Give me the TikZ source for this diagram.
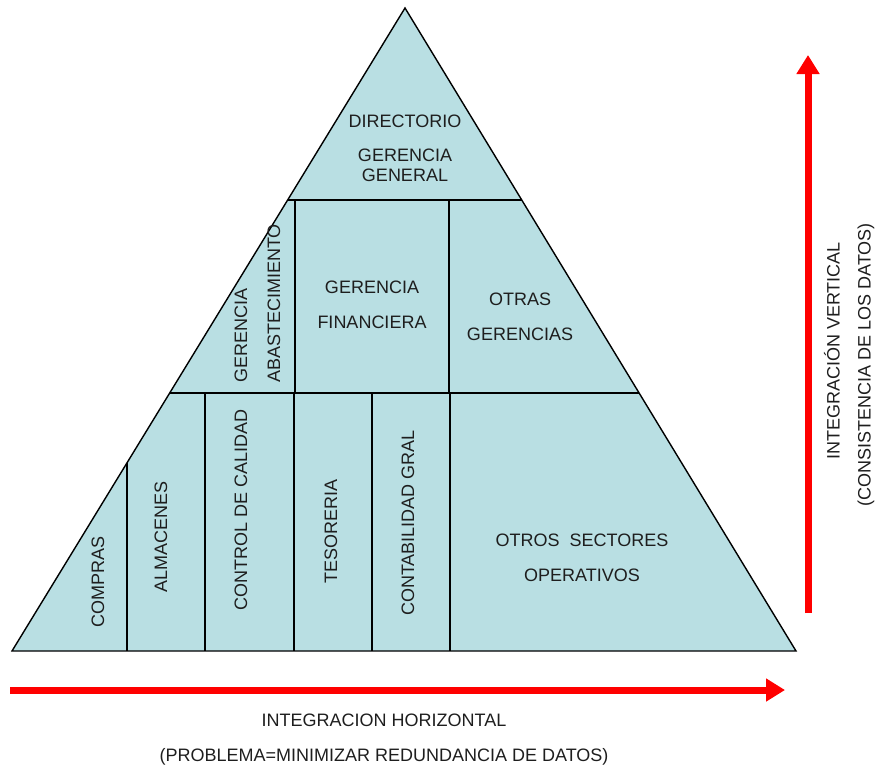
\documentclass[tikz,border=0pt]{standalone}
\usepackage{fontspec}
\setmainfont{Liberation Sans}
\usetikzlibrary{arrows.meta, positioning, calc}
\definecolor{pyrfill}{RGB}{185, 223, 227}
\definecolor{pyrtext}{RGB}{30, 30, 30}
\definecolor{axisred}{RGB}{255, 0, 0}

\begin{document}
\begin{tikzpicture}[x=1pt, y=-1pt,
    cell/.style={draw=black, line width=1.4pt},
    txt/.style={inner sep=0pt, align=center, text=pyrtext,
                font=\fontsize{18}{35}\selectfont},
    vtxt/.style={txt, rotate=90},
    axis/.style={draw=axisred, line width=7pt,
                 -{Triangle[length=19pt, width=22pt]}},
]
\useasboundingbox (0,0) rectangle (877,766);

% Pyramid outline
\coordinate (apex) at (405,8);
\coordinate (bl) at (12,651);
\coordinate (br) at (796,651);
\filldraw[cell, fill=pyrfill, line join=miter] (apex) -- (br) -- (bl) -- cycle;

% Level borders
\coordinate (l1) at ($(apex)!0.2986!(bl)$);
\coordinate (r1) at ($(apex)!0.2986!(br)$);
\coordinate (l2) at ($(apex)!0.5988!(bl)$);
\coordinate (r2) at ($(apex)!0.5988!(br)$);
\coordinate (c1) at ($(apex)!0.7074!(bl)$);
\draw[cell] (l1) -- (r1);
\draw[cell] (l2) -- (r2);

% Middle level columns
\draw[cell] (295,200) -- (295,393);
\draw[cell] (449,200) -- (449,393);

% Bottom level columns
\draw[cell] (c1) -- (c1 |- bl);
\foreach \x in {205,294,372,450}
    \draw[cell] (\x,393) -- (\x,651);

% Top level
\node[txt] (dir) at (405,121) {DIRECTORIO};
\node[txt, font=\fontsize{18}{20}\selectfont] (gg) at (405,165)
    {GERENCIA\\GENERAL};

% Middle level
\node[vtxt, anchor=west, align=left, font=\fontsize{18}{33}\selectfont]
    (gabs) at (257.5,383) {GERENCIA\\ABASTECIMIENTO};
\node[txt] (gfin) at (372,305) {GERENCIA\\FINANCIERA};
\node[txt] (otg) at (520,317) {OTRAS\\GERENCIAS};

% Bottom level
\node[vtxt] (compras) at (98,582) {COMPRAS};
\node[vtxt] (alm) at (161,537) {ALMACENES};
\node[vtxt] (ccal) at (241,510) {CONTROL DE CALIDAD};
\node[vtxt] (tes) at (331,531) {TESORERIA};
\node[vtxt] (cont) at (408,523) {CONTABILIDAD GRAL};
\node[txt] (otros) at (582,558) {OTROS\ \ SECTORES\\OPERATIVOS};

% Horizontal axis
\coordinate (hstart) at (10,690);
\coordinate (hend) at (785,690);
\draw[axis] (hstart) -- (hend);
\node[txt] (hlab) at (384,720) {INTEGRACION HORIZONTAL};
\node[txt, below=22pt of hlab] (hsub)
    {(PROBLEMA=MINIMIZAR REDUNDANCIA DE DATOS)};

% Vertical axis
\coordinate (vstart) at (808,613);
\coordinate (vend) at (808,55);
\draw[axis] (vstart) -- (vend);
\node[vtxt] (vlab) at (832,351) {INTEGRACIÓN VERTICAL};
\node[vtxt] (vsub) at (866,365) {(CONSISTENCIA DE LOS DATOS)};

\end{tikzpicture}
\end{document}
